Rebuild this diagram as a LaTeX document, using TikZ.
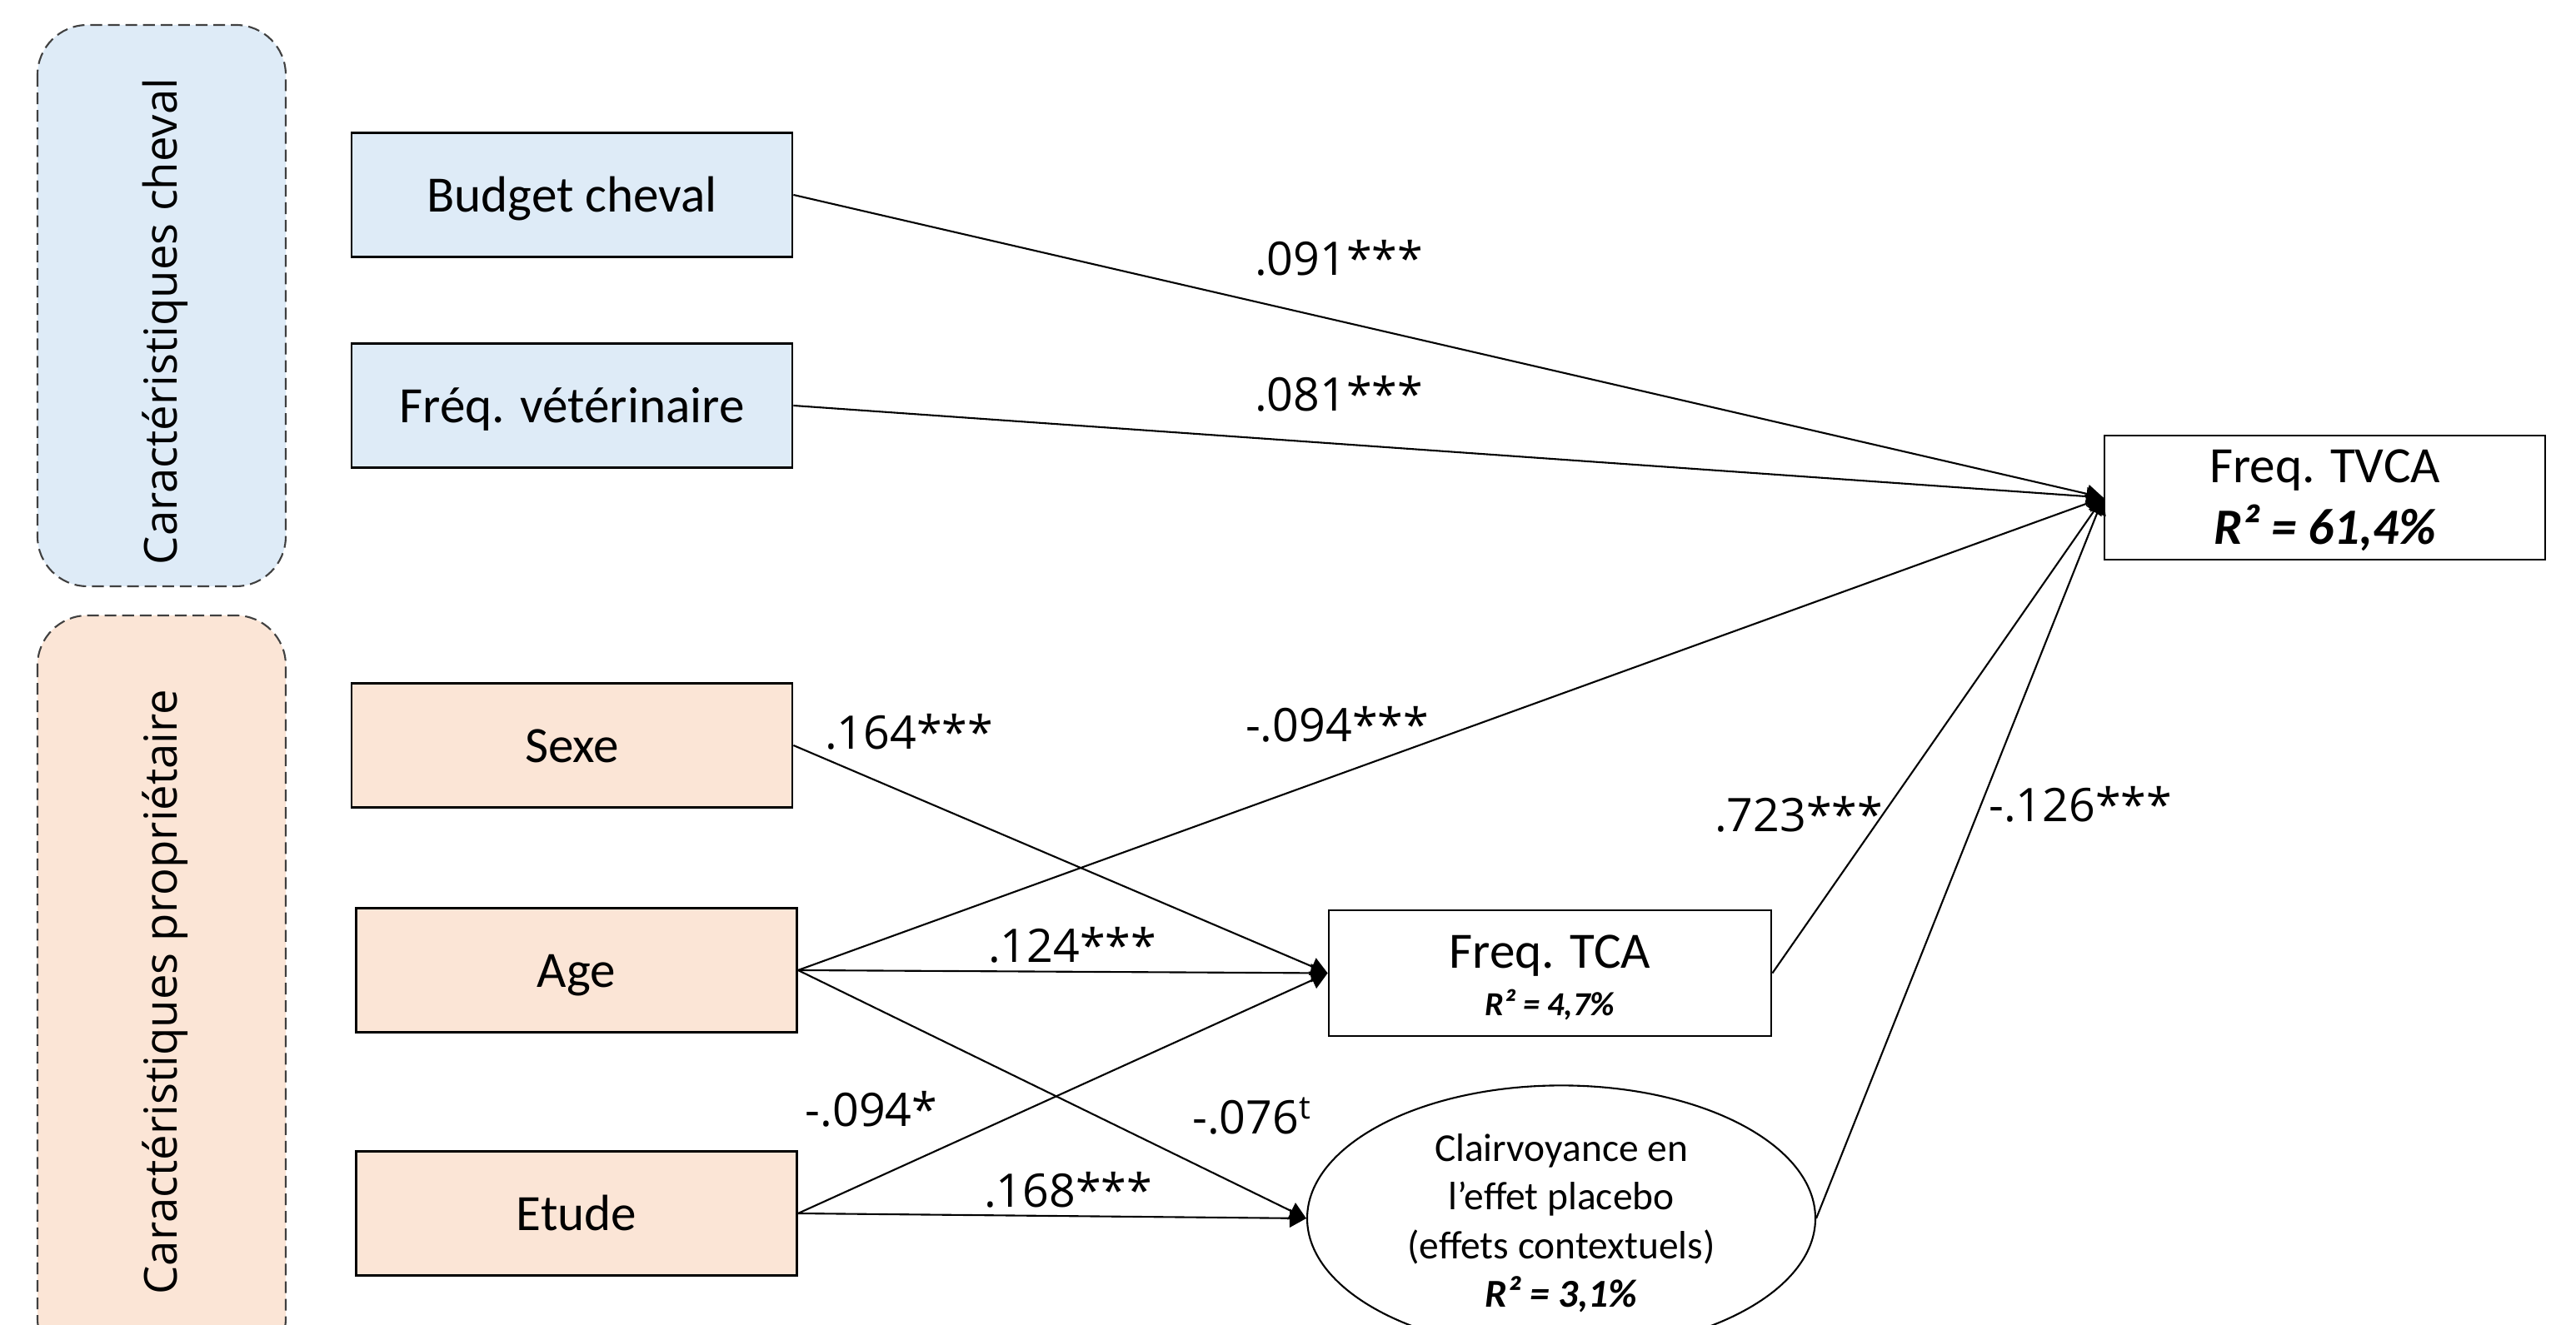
\documentclass[tikz,border=0pt]{standalone}
\usepackage{fontspec}
\setmainfont{Carlito}
\newfontfamily\coeffont{Open Sans}
\usetikzlibrary{arrows.meta,shapes.geometric}
\definecolor{chevalfill}{HTML}{DEEBF7}
\definecolor{proprifill}{HTML}{FBE5D6}
\definecolor{groupline}{HTML}{404040}

\begin{document}
\begin{tikzpicture}[
        varbox/.style={draw=black, line width=0.8pt, minimum width=5.29cm, minimum height=1.49cm, inner sep=0pt, align=center, font=\fontsize{17.4}{21}\selectfont},
        predbox/.style={varbox, text height=0.58cm, text depth=0.16cm},
        groupbox/.style={draw=groupline, dash pattern=on 4pt off 2pt, line width=0.6pt, rounded corners=0.6cm, font=\coeffont\fontsize{15.5}{19}\selectfont},
        effect/.style={draw=black, line width=0.6pt, -{Triangle[length=0.2cm, width=0.22cm]}},
        coef/.style={inner sep=0pt, font=\coeffont\fontsize{15.8}{19}\selectfont}
    ]
        
        \useasboundingbox (0, 0) rectangle (30.92, 15.91);
        \clip (0, 0) rectangle (30.92, 15.91);
        
        \node[groupbox, fill=chevalfill, rotate=90, minimum width=6.74cm, minimum height=2.98cm, text height=0.5cm] (grpcheval) at (1.94, 12.24) {\hspace*{-0.38cm}Caractéristiques cheval};
        \node[groupbox, fill=proprifill, rotate=90, minimum width=9.04cm, minimum height=2.98cm, text height=0.5cm] (grpproprio) at (1.94, 4.0) {Caractéristiques propriétaire};
        
        \node[predbox, fill=chevalfill] (budget) at (6.865, 13.57) {Budget cheval};
        \node[predbox, fill=chevalfill] (veto) at (6.865, 11.04) {Fréq. vétérinaire};
        \node[predbox, fill=proprifill] (sexe) at (6.865, 6.96) {Sexe};
        \node[predbox, fill=proprifill] (age) at (6.92, 4.26) {Age};
        \node[predbox, fill=proprifill] (etude) at (6.92, 1.34) {Etude};
        
        \node[varbox] (tvca) at (27.905, 9.935) {\rule{0pt}{13pt}Freq. TVCA\\\textbf{\textit{R² = 61,4\%}}};
        \node[varbox, minimum width=5.31cm, minimum height=1.51cm] (tca) at (18.605, 4.225) {\rule{0pt}{14.4pt}Freq. TCA\\[-5pt]{\fontsize{11.5}{13}\selectfont\textbf{\textit{R² = 4,7\%}}}};
        \node[draw=black, ellipse, line width=0.6pt, minimum width=6.1cm, minimum height=3.08cm, inner sep=0pt, align=center, font=\fontsize{13.5}{16.6}\selectfont] (placebo) at (18.74, 1.28) {\rule{0pt}{12.6pt}Clairvoyance en\\l’effet placebo\\(effets contextuels)\\\textbf{\textit{R² = 3,1\%}}};
        
        \draw[effect] (budget.east) -- (tvca.west);
        \draw[effect] (veto.east) -- (tvca.west);
        \draw[effect] (age.east) -- (tvca.west);
        \draw[effect] (tca.east) -- (tvca.west);
        \draw[effect] (placebo.east) -- (tvca.west);
        \draw[effect] (sexe.east) -- (tca.west);
        \draw[effect] (age.east) -- (tca.west);
        \draw[effect] (etude.east) -- (tca.west);
        \draw[effect] (age.east) -- (placebo.west);
        \draw[effect] (etude.east) -- (placebo.west);
        
        \node[coef] at (16.07, 12.81) {.091***};
        \node[coef] at (16.07, 11.18) {.081***};
        \node[coef] at (16.05, 7.21) {-.094***};
        \node[coef] at (21.59, 6.13) {.723***};
        \node[coef] at (24.97, 6.25) {-.126***};
        \node[coef] at (10.91, 7.12) {.164***};
        \node[coef] at (12.87, 4.56) {.124***};
        \node[coef] at (10.46, 2.59) {-.094*};
        \node[coef] at (15.03, 2.51) {-.076\textsuperscript{t}};
        \node[coef] at (12.82, 1.62) {.168***};
    
\end{tikzpicture}
\end{document}
